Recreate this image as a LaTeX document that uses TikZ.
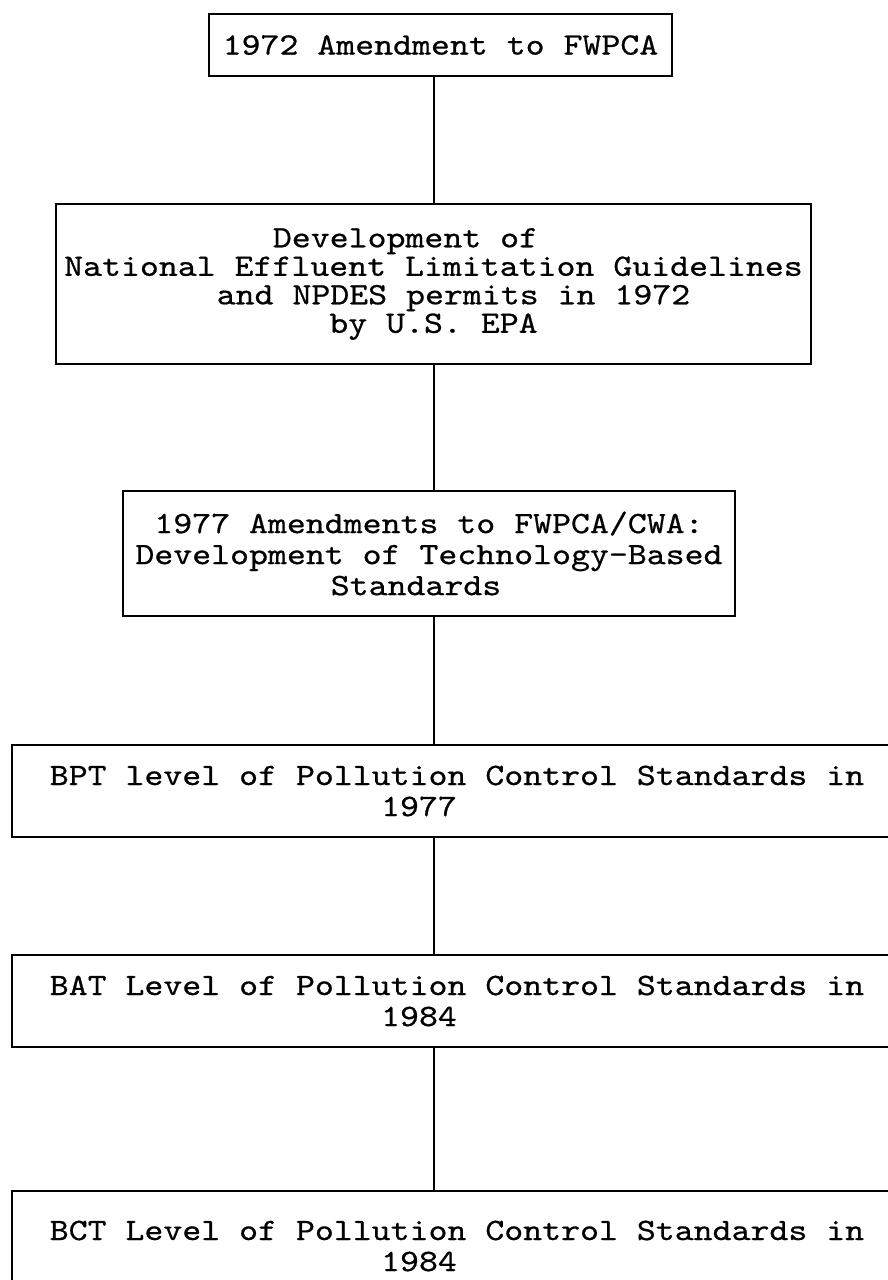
\documentclass[tikz,border=0pt]{standalone}
\usepackage{fontspec}
% serif typewriter face, widened to a Courier-like pitch
\newfontfamily\typewriter[FakeStretch=1.16,FakeBold=0.6]{lmmono10-regular.otf}
\newcommand{\boxfont}{\typewriter\fontsize{31.1}{31}\selectfont}
\newcommand{\tightfont}{\typewriter\fontsize{31.1}{28.5}\selectfont}
\begin{document}
\begin{tikzpicture}[x=1pt,y=-1pt,
  stagebox/.style={draw, line width=2pt, inner sep=0pt, align=center,
    anchor=north west, font=\boxfont},
  link/.style={line width=1.8pt}]
  \useasboundingbox (0,0) rectangle (888,1280);
  \fill[white] (0,0) rectangle (888,1280);

  % vertical spine shared by all connectors
  \coordinate (spine) at (434,0);

  \node[stagebox, minimum width=463pt, minimum height=62pt] (b1) at (208,13)
    {1972 Amendment to FWPCA};
  \node[stagebox, font=\tightfont, minimum width=755pt, minimum height=160pt] (b2) at (55,203)
    {Development of\hspace*{56pt}\\
     National Effluent Limitation Guidelines\\
     \hspace*{40pt}and NPDES permits in 1972\\
     by U.S. EPA};
  \node[stagebox, minimum width=612pt, minimum height=125pt] (b3) at (122,490)
    {1977 Amendments to FWPCA/CWA:\\
     Development of Technology-Based\\
     Standards\hspace*{26pt}};
  \node[stagebox, minimum width=890pt, minimum height=92pt] (b4) at (11,744)
    {BPT level of Pollution Control Standards in\\
     1977\hspace*{76pt}};
  \node[stagebox, minimum width=890pt, minimum height=92pt] (b5) at (11,954)
    {BAT Level of Pollution Control Standards in\\
     1984\hspace*{76pt}};
  \node[stagebox, minimum width=890pt, minimum height=110pt] (b6) at (11,1190)
    {BCT Level of Pollution Control Standards in\\
     1984\hspace*{76pt}};

  \draw[link] (b1.south -| spine) -- (b2.north -| spine);
  \draw[link] (b2.south -| spine) -- (b3.north -| spine);
  \draw[link] (b3.south -| spine) -- (b4.north -| spine);
  \draw[link] (b4.south -| spine) -- (b5.north -| spine);
  \draw[link] (b5.south -| spine) -- (b6.north -| spine);
\end{tikzpicture}
\end{document}
